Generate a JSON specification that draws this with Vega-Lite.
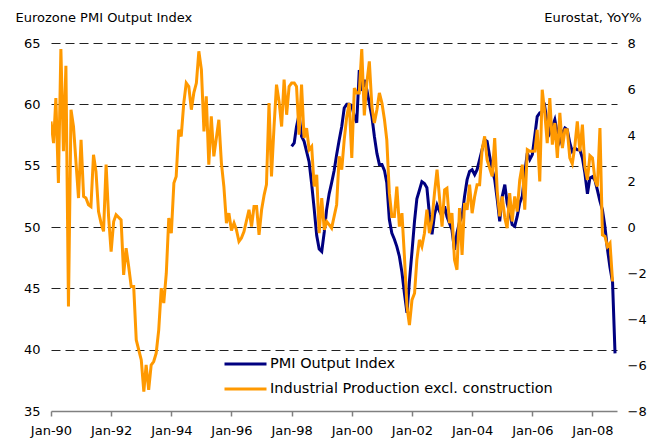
{
  "$schema": "https://vega.github.io/schema/vega-lite/v6.json",
  "width": 566,
  "height": 368,
  "autosize": {"type": "none"},
  "padding": {"left": 51, "top": 43, "right": 39, "bottom": 30},
  "background": "white",
  "config": {
    "font": "DejaVu Sans",
    "view": {"stroke": null},
    "axis": {"labelFont": "DejaVu Sans", "labelFontSize": 13, "labelColor": "#000", "titleFont": "DejaVu Sans", "titleFontSize": 13, "titleFontWeight": "normal", "titleColor": "#000"}
  },
  "layer": [
    {
      "data": {
        "format": {"parse": {"d": "date:'%Y-%m'"}},
        "values": [
          {"d":"1998-01","v":56.57},{"d":"1998-02","v":56.85},{"d":"1998-03","v":58.2},{"d":"1998-04","v":59.16},{"d":"1998-05","v":57.39},{"d":"1998-06","v":56.98},{"d":"1998-07","v":56.17},{"d":"1998-08","v":55.3},{"d":"1998-09","v":53.5},{"d":"1998-10","v":51.5},{"d":"1998-11","v":49.3},{"d":"1998-12","v":48.2},
          {"d":"1999-01","v":48.0},{"d":"1999-02","v":49.6},{"d":"1999-03","v":51.4},{"d":"1999-04","v":52.7},{"d":"1999-05","v":53.6},{"d":"1999-06","v":54.6},{"d":"1999-07","v":55.9},{"d":"1999-08","v":57.1},{"d":"1999-09","v":58.2},{"d":"1999-10","v":59.7},{"d":"1999-11","v":60.0},{"d":"1999-12","v":60.0},
          {"d":"2000-01","v":59.9},{"d":"2000-02","v":59.0},{"d":"2000-03","v":58.5},{"d":"2000-04","v":62.8},{"d":"2000-05","v":61.1},{"d":"2000-06","v":62.0},{"d":"2000-07","v":61.2},{"d":"2000-08","v":60.1},{"d":"2000-09","v":59.0},{"d":"2000-10","v":57.4},{"d":"2000-11","v":56.0},{"d":"2000-12","v":55.1},
          {"d":"2001-01","v":55.1},{"d":"2001-02","v":54.6},{"d":"2001-03","v":53.6},{"d":"2001-04","v":50.6},{"d":"2001-05","v":49.5},{"d":"2001-06","v":49.0},{"d":"2001-07","v":48.4},{"d":"2001-08","v":47.6},{"d":"2001-09","v":46.3},{"d":"2001-10","v":44.6},{"d":"2001-11","v":43.0},{"d":"2001-12","v":45.6},
          {"d":"2002-01","v":48.0},{"d":"2002-02","v":50.5},{"d":"2002-03","v":52.3},{"d":"2002-04","v":53.0},{"d":"2002-05","v":53.7},{"d":"2002-06","v":53.55},{"d":"2002-07","v":53.2},{"d":"2002-08","v":51.0},{"d":"2002-09","v":49.4},{"d":"2002-10","v":51.0},{"d":"2002-11","v":51.8},{"d":"2002-12","v":51.3},
          {"d":"2003-01","v":50.86},{"d":"2003-02","v":51.68},{"d":"2003-03","v":50.86},{"d":"2003-04","v":50.3},{"d":"2003-05","v":49.78},{"d":"2003-06","v":48.15},{"d":"2003-07","v":49.51},{"d":"2003-08","v":50.4},{"d":"2003-09","v":50.86},{"d":"2003-10","v":52.5},{"d":"2003-11","v":53.86},{"d":"2003-12","v":54.53},
          {"d":"2004-01","v":54.67},{"d":"2004-02","v":54.27},{"d":"2004-03","v":54.67},{"d":"2004-04","v":55.49},{"d":"2004-05","v":56.3},{"d":"2004-06","v":57.12},{"d":"2004-07","v":56.98},{"d":"2004-08","v":55.76},{"d":"2004-09","v":54.67},{"d":"2004-10","v":53.86},{"d":"2004-11","v":52.23},{"d":"2004-12","v":50.46},
          {"d":"2005-01","v":52.5},{"d":"2005-02","v":53.45},{"d":"2005-03","v":51.96},{"d":"2005-04","v":51.14},{"d":"2005-05","v":50.19},{"d":"2005-06","v":50.05},{"d":"2005-07","v":50.86},{"d":"2005-08","v":51.96},{"d":"2005-09","v":52.5},{"d":"2005-10","v":54.4},{"d":"2005-11","v":56.04},{"d":"2005-12","v":55.5},
          {"d":"2006-01","v":55.9},{"d":"2006-02","v":57.5},{"d":"2006-03","v":59.0},{"d":"2006-04","v":59.3},{"d":"2006-05","v":59.4},{"d":"2006-06","v":59.8},{"d":"2006-07","v":58.5},{"d":"2006-08","v":57.67},{"d":"2006-09","v":58.2},{"d":"2006-10","v":58.75},{"d":"2006-11","v":57.67},{"d":"2006-12","v":56.98},
          {"d":"2007-01","v":57.67},{"d":"2007-02","v":58.07},{"d":"2007-03","v":57.94},{"d":"2007-04","v":56.85},{"d":"2007-05","v":56.17},{"d":"2007-06","v":56.44},{"d":"2007-07","v":56.3},{"d":"2007-08","v":56.3},{"d":"2007-09","v":55.63},{"d":"2007-10","v":54.4},{"d":"2007-11","v":52.7},{"d":"2007-12","v":54.0},
          {"d":"2008-01","v":54.1},{"d":"2008-02","v":53.8},{"d":"2008-03","v":53.0},{"d":"2008-04","v":52.1},{"d":"2008-05","v":51.4},{"d":"2008-06","v":50.0},{"d":"2008-07","v":48.2},{"d":"2008-08","v":46.7},{"d":"2008-09","v":45.5},{"d":"2008-10","v":39.7}
        ]
      },
      "mark": {"type": "line", "strokeWidth": 3, "clip": true},
      "encoding": {
        "x": {
          "field": "d", "type": "temporal",
          "scale": {"domain": [{"year": 1990, "month": 1, "date": 1}, {"year": 2008, "month": 10, "date": 25}]},
          "axis": {
            "values": [{"year":1990,"month":1,"date":1},{"year":1992,"month":1,"date":1},{"year":1994,"month":1,"date":1},{"year":1996,"month":1,"date":1},{"year":1998,"month":1,"date":1},{"year":2000,"month":1,"date":1},{"year":2002,"month":1,"date":1},{"year":2004,"month":1,"date":1},{"year":2006,"month":1,"date":1},{"year":2008,"month":1,"date":1}],
            "format": "%b-%y", "title": null, "grid": false,
            "domainColor": "#808080", "domainWidth": 1.5, "tickColor": "#808080", "tickWidth": 1.5, "tickSize": 5, "labelPadding": 8, "labelFlush": false
          }
        },
        "y": {
          "field": "v", "type": "quantitative",
          "scale": {"domain": [35, 65], "nice": false, "zero": false},
          "axis": {
            "orient": "left", "values": [35, 40, 45, 50, 55, 60, 65],
            "grid": true, "gridDash": [9, 5], "gridColor": "#222", "gridWidth": 1,
            "gridOpacity": {"condition": {"test": "datum.value == 35", "value": 0}, "value": 1},
            "domain": false, "ticks": false, "labelPadding": 11,
            "title": "Eurozone PMI Output Index", "titleAngle": 0, "titleAlign": "left", "titleBaseline": "middle", "titleX": -36, "titleY": -26
          }
        },
        "color": {
          "datum": "PMI Output Index", "type": "nominal",
          "scale": {"domain": ["PMI Output Index", "Industrial Production excl. construction"], "range": ["#000080", "#FF9900"]},
          "legend": {
            "orient": "none", "legendX": 172, "legendY": 311, "title": null, "padding": 0,
            "symbolType": "stroke", "symbolStrokeWidth": 3, "symbolSize": 1764, "clipHeight": 20,
            "labelFont": "DejaVu Sans", "labelFontSize": 14.5, "labelColor": "#000", "labelOffset": 2, "rowPadding": 5,
            "labelLimit": 400
          }
        }
      }
    },
    {
      "data": {
        "format": {"parse": {"d": "date:'%Y-%m'"}},
        "values": [
          {"d":"1990-01","v":4.59},{"d":"1990-02","v":3.65},{"d":"1990-03","v":5.61},{"d":"1990-04","v":1.91},{"d":"1990-05","v":7.74},{"d":"1990-06","v":3.29},{"d":"1990-07","v":7.01},{"d":"1990-08","v":-3.46},{"d":"1990-09","v":5.10},{"d":"1990-10","v":4.37},{"d":"1990-12","v":1.26},
          {"d":"1991-01","v":3.79},{"d":"1991-02","v":1.33},{"d":"1991-03","v":1.26},{"d":"1991-04","v":0.97},{"d":"1991-05","v":0.89},{"d":"1991-06","v":3.14},{"d":"1991-07","v":2.42},{"d":"1991-08","v":0.67},{"d":"1991-09","v":0.17},{"d":"1991-10","v":-0.19},{"d":"1991-11","v":2.71},{"d":"1991-12","v":0.46},
          {"d":"1992-01","v":-1.07},{"d":"1992-02","v":0.24},{"d":"1992-03","v":0.53},{"d":"1992-05","v":0.31},{"d":"1992-06","v":-2.08},{"d":"1992-07","v":-0.92},{"d":"1992-08","v":-1.72},{"d":"1992-09","v":-2.59},{"d":"1992-10","v":-2.59},{"d":"1992-11","v":-4.91},
          {"d":"1993-01","v":-5.78},{"d":"1993-02","v":-7.16},{"d":"1993-03","v":-6.0},{"d":"1993-04","v":-7.08},{"d":"1993-05","v":-6.0},{"d":"1993-06","v":-5.85},{"d":"1993-07","v":-5.49},{"d":"1993-08","v":-4.47},{"d":"1993-09","v":-2.66},{"d":"1993-10","v":-3.31},{"d":"1993-11","v":-2.01},{"d":"1993-12","v":0.39},
          {"d":"1994-01","v":-0.27},{"d":"1994-02","v":1.91},{"d":"1994-03","v":2.20},{"d":"1994-04","v":4.23},{"d":"1994-05","v":3.94},{"d":"1994-06","v":5.39},{"d":"1994-07","v":6.26},{"d":"1994-08","v":6.11},{"d":"1994-09","v":5.10},{"d":"1994-10","v":5.83},{"d":"1994-11","v":6.26},{"d":"1994-12","v":7.64},
          {"d":"1995-01","v":6.84},{"d":"1995-02","v":4.16},{"d":"1995-03","v":5.68},{"d":"1995-04","v":2.71},{"d":"1995-05","v":4.81},{"d":"1995-06","v":3.07},{"d":"1995-08","v":4.66},{"d":"1995-09","v":2.78},{"d":"1995-10","v":1.76},{"d":"1995-11","v":0.17},{"d":"1995-12","v":0.60},
          {"d":"1996-01","v":-0.15},{"d":"1996-02","v":0.17},{"d":"1996-03","v":-0.12},{"d":"1996-04","v":-0.63},{"d":"1996-05","v":-0.48},{"d":"1996-06","v":-0.20},{"d":"1996-08","v":0.75},{"d":"1996-09","v":0.02},{"d":"1996-10","v":0.89},{"d":"1996-11","v":0.89},{"d":"1996-12","v":-0.34},
          {"d":"1997-01","v":0.75},{"d":"1997-02","v":1.40},{"d":"1997-03","v":1.84},{"d":"1997-04","v":5.39},{"d":"1997-05","v":2.20},{"d":"1997-06","v":4.37},{"d":"1997-07","v":6.19},{"d":"1997-08","v":5.46},{"d":"1997-09","v":4.37},{"d":"1997-10","v":6.41},{"d":"1997-11","v":4.88},{"d":"1997-12","v":6.11},
          {"d":"1998-01","v":6.26},{"d":"1998-02","v":6.26},{"d":"1998-03","v":6.11},{"d":"1998-04","v":4.01},{"d":"1998-05","v":6.19},{"d":"1998-06","v":3.87},{"d":"1998-07","v":4.30},{"d":"1998-08","v":3.36},{"d":"1998-09","v":3.50},{"d":"1998-10","v":1.76},{"d":"1998-11","v":2.27},{"d":"1998-12","v":-0.27},
          {"d":"1999-01","v":1.26},{"d":"1999-02","v":-0.12},{"d":"1999-03","v":0.24},{"d":"1999-04","v":0.10},{"d":"1999-05","v":-0.05},{"d":"1999-07","v":0.97},{"d":"1999-08","v":3.07},{"d":"1999-09","v":2.49},{"d":"1999-10","v":3.79},{"d":"1999-11","v":4.81},{"d":"1999-12","v":5.39},
          {"d":"2000-01","v":3.0},{"d":"2000-02","v":6.04},{"d":"2000-03","v":5.83},{"d":"2000-04","v":5.83},{"d":"2000-05","v":7.74},{"d":"2000-06","v":4.85},{"d":"2000-07","v":6.26},{"d":"2000-08","v":7.2},{"d":"2000-09","v":5.24},{"d":"2000-10","v":4.52},{"d":"2000-11","v":5.10},{"d":"2000-12","v":5.83},
          {"d":"2001-01","v":5.39},{"d":"2001-02","v":4.66},{"d":"2001-03","v":3.79},{"d":"2001-04","v":1.47},{"d":"2001-05","v":0.46},{"d":"2001-06","v":0.46},{"d":"2001-07","v":1.76},{"d":"2001-08","v":0.02},{"d":"2001-09","v":0.60},{"d":"2001-10","v":-1.28},{"d":"2001-11","v":-3.46},{"d":"2001-12","v":-4.26},
          {"d":"2002-01","v":-3.17},{"d":"2002-02","v":-2.88},{"d":"2002-03","v":-1.43},{"d":"2002-04","v":-0.56},{"d":"2002-05","v":-0.85},{"d":"2002-06","v":-0.27},{"d":"2002-07","v":0.75},{"d":"2002-08","v":-0.27},{"d":"2002-09","v":0.31},{"d":"2002-10","v":1.47},{"d":"2002-11","v":2.49},
          {"d":"2003-01","v":0.02},{"d":"2003-02","v":1.62},{"d":"2003-03","v":1.69},{"d":"2003-04","v":0.17},{"d":"2003-05","v":0.60},{"d":"2003-06","v":-1.43},{"d":"2003-07","v":-1.86},{"d":"2003-08","v":0.82},{"d":"2003-09","v":-1.21},{"d":"2003-10","v":1.04},{"d":"2003-11","v":0.75},{"d":"2003-12","v":1.84},
          {"d":"2004-01","v":0.60},{"d":"2004-02","v":1.33},{"d":"2004-03","v":1.84},{"d":"2004-04","v":1.84},{"d":"2004-05","v":3.36},{"d":"2004-06","v":3.94},{"d":"2004-07","v":2.92},{"d":"2004-09","v":2.20},{"d":"2004-10","v":3.87},{"d":"2004-11","v":1.54},{"d":"2004-12","v":0.46},
          {"d":"2005-01","v":1.33},{"d":"2005-02","v":0.39},{"d":"2005-03","v":-0.05},{"d":"2005-04","v":1.47},{"d":"2005-05","v":0.24},{"d":"2005-06","v":1.33},{"d":"2005-07","v":0.67},{"d":"2005-08","v":2.05},{"d":"2005-09","v":2.71},{"d":"2005-10","v":0.75},{"d":"2005-11","v":3.36},{"d":"2005-12","v":3.29},
          {"d":"2006-01","v":3.29},{"d":"2006-02","v":3.3},{"d":"2006-03","v":4.23},{"d":"2006-04","v":1.98},{"d":"2006-05","v":5.97},{"d":"2006-06","v":4.96},{"d":"2006-07","v":3.65},{"d":"2006-08","v":5.61},{"d":"2006-09","v":3.58},{"d":"2006-10","v":4.52},{"d":"2006-11","v":3.0},{"d":"2006-12","v":4.96},
          {"d":"2007-01","v":3.43},{"d":"2007-02","v":4.23},{"d":"2007-03","v":4.23},{"d":"2007-04","v":3.0},{"d":"2007-05","v":2.75},{"d":"2007-06","v":3.50},{"d":"2007-07","v":4.59},{"d":"2007-08","v":3.29},{"d":"2007-09","v":4.45},{"d":"2007-10","v":2.63},{"d":"2007-11","v":2.05},{"d":"2007-12","v":3.1},
          {"d":"2008-01","v":3.0},{"d":"2008-02","v":2.05},{"d":"2008-03","v":1.76},{"d":"2008-04","v":4.30},{"d":"2008-05","v":-0.34},{"d":"2008-06","v":-0.41},{"d":"2008-07","v":-0.85},{"d":"2008-08","v":-0.70},{"d":"2008-09","v":-2.37}
        ]
      },
      "mark": {"type": "line", "strokeWidth": 3, "clip": true},
      "encoding": {
        "x": {"field": "d", "type": "temporal"},
        "y": {
          "field": "v", "type": "quantitative",
          "scale": {"domain": [-8, 8], "nice": false, "zero": false},
          "axis": {
            "orient": "right", "values": [-8, -6, -4, -2, 0, 2, 4, 6, 8],
            "grid": false, "domain": false, "ticks": false, "labelPadding": 10,
            "title": "Eurostat, YoY%", "titleAngle": 0, "titleAlign": "right", "titleBaseline": "middle", "titleX": 24, "titleY": -26
          }
        },
        "color": {"datum": "Industrial Production excl. construction", "type": "nominal"}
      }
    }
  ],
  "resolve": {"scale": {"y": "independent"}}
}
